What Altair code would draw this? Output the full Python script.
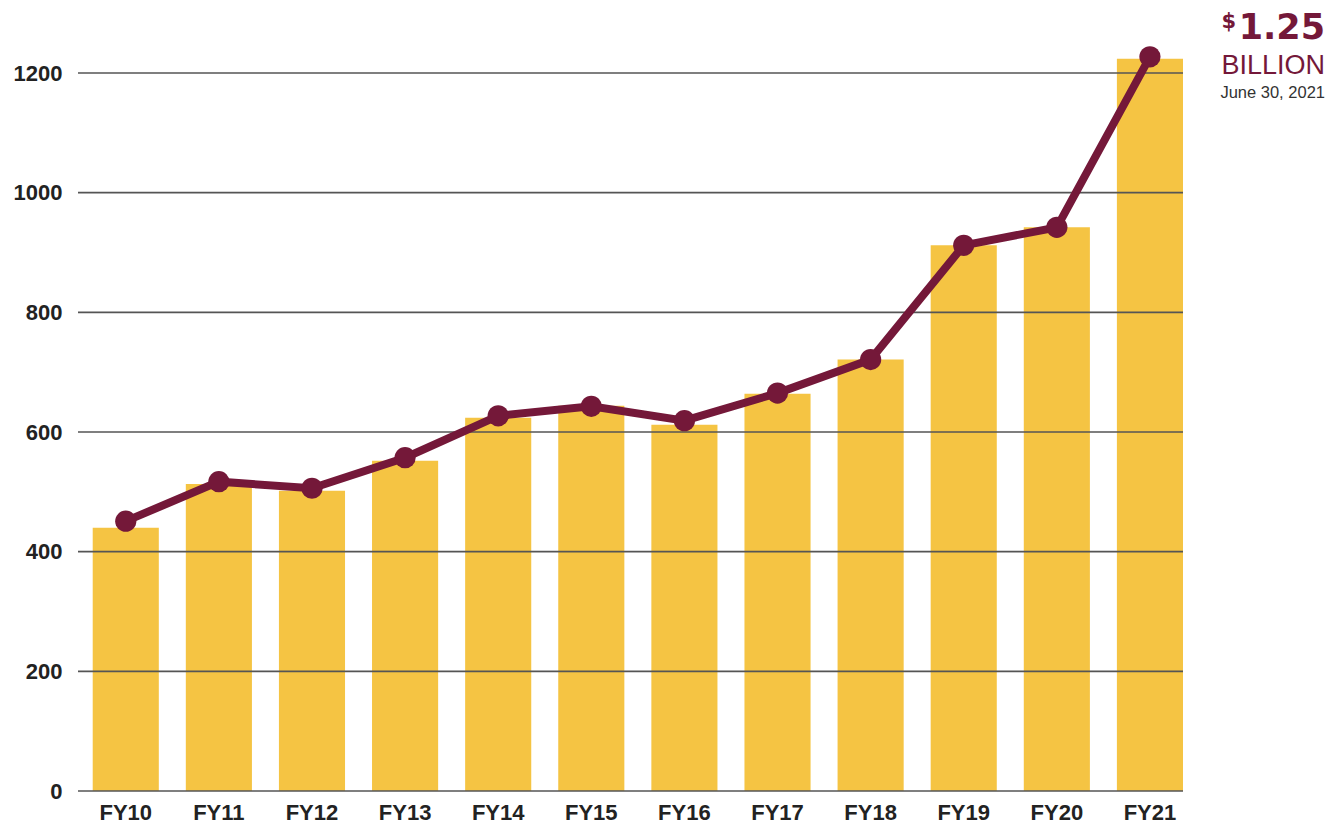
import altair as alt
import pandas as pd

years = ["FY10", "FY11", "FY12", "FY13", "FY14", "FY15", "FY16", "FY17", "FY18", "FY19", "FY20", "FY21"]
bar_values = [440, 513, 502, 552, 624, 644, 612, 664, 721, 912, 942, 1224]
line_values = [451, 517, 506, 557, 627, 643, 619, 665, 721, 912, 942, 1227]
tick_values = [0, 200, 400, 600, 800, 1000, 1200]

BAR = "#F5C443"
MAROON = "#741839"
GRID = "#555555"
FONT = "Liberation Sans"

df = pd.DataFrame({"year": years, "bar": bar_values, "line": line_values})
grid_df = pd.DataFrame({"v": tick_values})

x_enc = alt.X(
    "year:N",
    sort=years,
    title=None,
    scale=alt.Scale(paddingInner=0.29, paddingOuter=0.079, align=1),
    axis=alt.Axis(
        labelAngle=0, labelFont=FONT, labelFontSize=22, labelFontWeight="bold",
        labelColor="#222222", ticks=False, domain=False, grid=False,
        labelPadding=11, labelBaseline="top",
    ),
)
y_scale = alt.Scale(domain=[0, 1200], nice=False)

bars = alt.Chart(df).mark_bar(color=BAR).encode(
    x=x_enc,
    y=alt.Y(
        "bar:Q", scale=y_scale, title=None,
        axis=alt.Axis(
            values=tick_values, format="d", labelFont=FONT, labelFontSize=22,
            labelFontWeight="bold", labelColor="#222222", ticks=False, domain=False,
            grid=False, labelPadding=16,
        ),
    ),
)

rules = alt.Chart(grid_df).mark_rule(color=GRID, strokeWidth=1.6).encode(
    y=alt.Y("v:Q", scale=y_scale),
)

line = alt.Chart(df).mark_line(color=MAROON, strokeWidth=8).encode(
    x=alt.X("year:N", sort=years),
    y=alt.Y("line:Q", scale=y_scale),
)
points = alt.Chart(df).mark_point(
    filled=True, color=MAROON, size=450, opacity=1, shape="circle"
).encode(
    x=alt.X("year:N", sort=years),
    y=alt.Y("line:Q", scale=y_scale),
)

ann_df = pd.DataFrame({"t": [""]})
dollar = alt.Chart(ann_df).mark_text(
    text="$", font="DejaVu Sans", fontWeight="bold", fontSize=21, color=MAROON,
    align="right", baseline="alphabetic",
).encode(x=alt.value(1158), y=alt.value(-45))
amount = alt.Chart(ann_df).mark_text(
    text="1.25", font="DejaVu Sans", fontWeight="bold", fontSize=35, color=MAROON,
    align="right", baseline="alphabetic",
).encode(x=alt.value(1247), y=alt.value(-34))
billion = alt.Chart(ann_df).mark_text(
    text="BILLION", font=FONT, fontSize=27, color=MAROON,
    align="right", baseline="alphabetic",
).encode(x=alt.value(1247), y=alt.value(1))
date = alt.Chart(ann_df).mark_text(
    text="June 30, 2021", font=FONT, fontSize=16.5, color="#333333",
    align="right", baseline="alphabetic",
).encode(x=alt.value(1247), y=alt.value(25))

chart = alt.layer(bars, rules, line, points, dollar, amount, billion, date).properties(
    width=1105,
    height=718,
    padding={"left": 70, "top": 65, "right": 142, "bottom": 32},
    autosize=alt.AutoSizeParams(type="none"),
).configure_view(stroke=None)

chart.save("out.html", embed_options={"renderer": "svg", "actions": False})
